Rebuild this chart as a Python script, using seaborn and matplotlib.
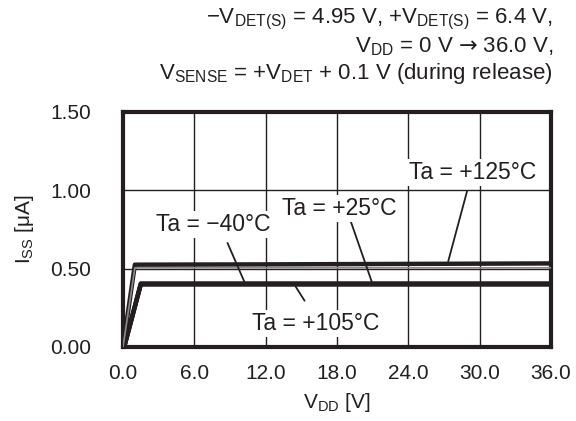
import numpy as np
import pandas as pd
import matplotlib
matplotlib.use("Agg")
import matplotlib.pyplot as plt
import seaborn as sns

# curve points (VDD in V, ISS in uA)
vdd_lo = [0.1, 1.5, 12.0, 24.0, 36.0]
iss_m40 = [0.0, 0.40, 0.40, 0.40, 0.40]
iss_25 = [0.0, 0.40, 0.40, 0.40, 0.40]
iss_105 = [0.0, 0.405, 0.405, 0.405, 0.405]
vdd_hi = [0.0, 1.0, 12.0, 24.0, 36.0]
iss_125 = [0.0, 0.525, 0.527, 0.530, 0.533]
iss_125_inner = [0.0, 0.505, 0.505, 0.505, 0.505]

labels = ["Ta = \u221240\u00b0C", "Ta = +25\u00b0C", "Ta = +105\u00b0C", "Ta = +125\u00b0C"]
xticks = [0.0, 6.0, 12.0, 18.0, 24.0, 30.0, 36.0]
yticks = [0.00, 0.50, 1.00, 1.50]

sns.set_theme(style="white")
plt.rcParams["font.family"] = ["Liberation Sans", "DejaVu Sans"]
plt.rcParams["mathtext.fontset"] = "custom"
plt.rcParams["mathtext.rm"] = "Liberation Sans"
plt.rcParams["mathtext.it"] = "Liberation Sans"
plt.rcParams["mathtext.sf"] = "DejaVu Sans"
ink = "#231f20"

df = pd.concat([
    pd.DataFrame({"vdd": vdd_lo, "iss": iss_m40, "ta": labels[0]}),
    pd.DataFrame({"vdd": vdd_lo, "iss": iss_25, "ta": labels[1]}),
    pd.DataFrame({"vdd": vdd_lo, "iss": iss_105, "ta": labels[2]}),
    pd.DataFrame({"vdd": vdd_hi, "iss": iss_125, "ta": labels[3]}),
])

fig = plt.figure(figsize=(5.76, 4.21), dpi=100)
ax = fig.add_axes([0.2135, 0.176, 0.743, 0.558])

sns.lineplot(data=df, x="vdd", y="iss", hue="ta", estimator=None, sort=False,
             palette=[ink] * 4, linewidth=3.2, legend=False, ax=ax, zorder=3)
sns.lineplot(x=vdd_hi, y=iss_125_inner, color="#8a8a8a", linewidth=1.2, ax=ax, zorder=3)

ax.set_xlim(0, 36)
ax.set_ylim(0, 1.5)
ax.set_xticks(xticks)
ax.set_xticklabels([f"{v:.1f}" for v in xticks])
ax.set_yticks(yticks)
ax.set_yticklabels([f"{v:.2f}" for v in yticks])
ax.grid(True, color=ink, linewidth=1.0)
ax.set_axisbelow(True)
for s in ax.spines.values():
    s.set_color(ink)
    s.set_linewidth(3)
ax.tick_params(axis="both", length=0, labelsize=15, colors=ink)
ax.tick_params(axis="x", pad=12)
ax.tick_params(axis="y", pad=23)
ax.set_xlabel("V$_{\\mathrm{DD}}$ [V]", fontsize=15, color=ink, labelpad=6)
ax.set_ylabel("I$_{\\mathrm{SS}}$ [\u03bcA]", fontsize=15, color=ink, labelpad=10)

box = dict(facecolor="white", edgecolor="none", pad=1.5)
notes = [
    (labels[0], (7.6, 0.78), (8.7, 0.68), (10.3, 0.40)),
    (labels[1], (18.2, 0.885), (19.1, 0.815), (21.0, 0.40)),
    (labels[2], (16.2, 0.15), (15.4, 0.28), (14.4, 0.40)),
    (labels[3], (29.4, 1.115), (29.0, 1.01), (27.3, 0.53)),
]
for txt, tpos, p0, p1 in notes:
    ax.annotate("", xy=p1, xytext=p0,
                arrowprops=dict(arrowstyle="-", color=ink, linewidth=1.3), zorder=4)
    ax.text(tpos[0], tpos[1], txt, ha="center", va="center", fontsize=16.5,
            color=ink, bbox=box, zorder=5)

title_lines = [
    "\u2212V$_{\\mathrm{DET(S)}}$ = 4.95 V, +V$_{\\mathrm{DET(S)}}$ = 6.4 V,",
    "V$_{\\mathrm{DD}}$ = 0 V $\\mathsf{\u2192}$ 36.0 V,",
    "V$_{\\mathrm{SENSE}}$ = +V$_{\\mathrm{DET}}$ + 0.1 V (during release)",
]
for i, t in enumerate(title_lines):
    fig.text(553 / 576, 1 - (19 + 27.5 * i) / 421, t, ha="right", va="center",
             fontsize=16, color=ink)

fig.savefig("out.png", dpi=100)
